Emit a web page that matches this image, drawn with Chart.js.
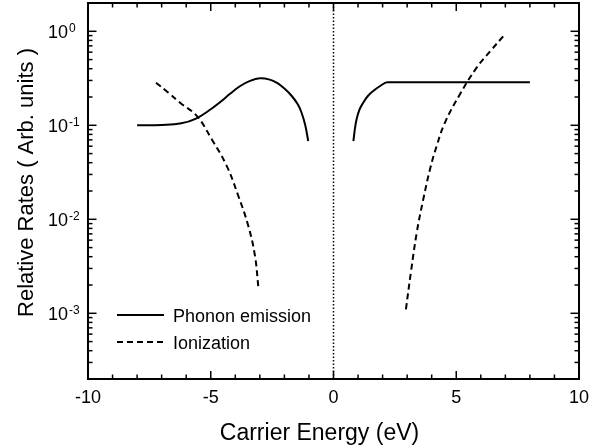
<!DOCTYPE html>
<html>
<head>
<meta charset="utf-8">
<script src="https://cdn.jsdelivr.net/npm/chart.js@4"></script>
<style>
  html, body { margin: 0; padding: 0; background: #fff; }
  #chart { display: block; }
</style>
</head>
<body>
<canvas id="chart" width="603" height="446"></canvas>
<script>
// Phonon emission, E < 0 branch
const phononLeftE = [-8, -7, -6.2, -5.6, -5.0, -4.6, -4.2, -3.8, -3.4, -3.0, -2.6, -2.3, -2.0, -1.7, -1.45, -1.3, -1.15, -1.03]
const phononLeftRate = [0.100, 0.101, 0.105, 0.118, 0.148, 0.178, 0.218, 0.262, 0.297, 0.316, 0.306, 0.282, 0.246, 0.205, 0.166, 0.136, 0.1, 0.068]

// Phonon emission, E > 0 branch
const phononRightE = [0.81, 0.88, 0.94, 1.05, 1.21, 1.4, 1.62, 1.9, 2.19, 5, 8]
const phononRightRate = [0.068, 0.095, 0.116, 0.145, 0.174, 0.205, 0.232, 0.262, 0.287, 0.287, 0.287]

// Ionization, E < 0 branch
const ionLeftE = [-7.23, -6.75, -6.25, -5.57, -4.96, -4.35, -3.88, -3.47, -3.2, -3.06]
const ionLeftRate = [0.284, 0.225, 0.174, 0.126, 0.071, 0.037, 0.0178, 0.0085, 0.0041, 0.0019]

// Ionization, E > 0 branch
const ionRightE = [2.95, 3.15, 3.39, 3.65, 3.93, 4.2, 4.54, 5.15, 5.83, 6.4, 6.92]
const ionRightRate = [0.0011, 0.0027, 0.0072, 0.016, 0.034, 0.06, 0.107, 0.214, 0.41, 0.62, 0.89]

// dotted marker at E = 0
const zeroLineE = [0, 0]
const zeroLineRate = [2e-4, 2]

const xMajorTicks = [-10, -5, 0, 5, 10]
const yDecades = [-3, -2, -1, 0]
const legendLabels = ['Phonon emission', 'Ionization']

const FONT = "'Liberation Sans', Arial, Helvetica, sans-serif"

function toPoints(xs, ys) {
  return xs.map((x, i) => ({ x, y: ys[i] }))
}

function curve(xs, ys, dash, smooth) {
  const ds = {
    data: toPoints(xs, ys),
    borderColor: '#000',
    borderWidth: 2,
    borderDash: dash,
    pointRadius: 0,
    fill: false,
  }
  if (smooth === 'monotone') ds.cubicInterpolationMode = 'monotone'
  else ds.tension = 0.4
  return ds
}

const axesPlugin = {
  id: 'framedAxes',
  afterDraw(chart) {
    const { ctx, chartArea: a, scales } = chart
    const xs = scales.x
    const ys = scales.y
    const line = (x1, y1, x2, y2) => {
      ctx.beginPath()
      ctx.moveTo(x1, y1)
      ctx.lineTo(x2, y2)
      ctx.stroke()
    }

    ctx.save()
    ctx.strokeStyle = '#000'
    ctx.fillStyle = '#000'
    ctx.setLineDash([])

    // frame
    ctx.lineWidth = 2
    ctx.strokeRect(a.left, a.top, a.right - a.left, a.bottom - a.top)

    // x ticks, inward on bottom and top
    ctx.lineWidth = 1.5
    for (let v = xs.min; v <= xs.max; v++) {
      const px = xs.getPixelForValue(v)
      const len = xMajorTicks.includes(v) ? 8 : 4.5
      line(px, a.bottom, px, a.bottom - len)
      line(px, a.top, px, a.top + len)
    }

    // y ticks: decades and 2..9 minors
    for (let d = -4; d <= 0; d++) {
      for (let m = 1; m <= 9; m++) {
        const v = m * Math.pow(10, d)
        if (v < ys.min || v > ys.max) continue
        const py = ys.getPixelForValue(v)
        const len = m === 1 ? 8.5 : 4.5
        line(a.left, py, a.left + len, py)
        line(a.right, py, a.right - len, py)
      }
    }

    // x tick labels
    ctx.font = '18px ' + FONT
    ctx.textAlign = 'center'
    ctx.textBaseline = 'alphabetic'
    xMajorTicks.forEach(v => {
      ctx.fillText(String(v), xs.getPixelForValue(v), a.bottom + 24)
    })

    // y tick labels as 10 with superscript exponent
    yDecades.forEach(d => {
      const py = ys.getPixelForValue(Math.pow(10, d))
      ctx.font = '18px ' + FONT
      ctx.textAlign = 'right'
      ctx.fillText('10', a.left - 20, py + 7)
      ctx.font = '12px ' + FONT
      ctx.textAlign = 'left'
      ctx.fillText(String(d), a.left - 19, py + 1)
    })

    // axis titles
    ctx.font = '23px ' + FONT
    ctx.textAlign = 'center'
    ctx.fillText('Carrier Energy (eV)', (a.left + a.right) / 2 - 14, a.bottom + 61)

    ctx.save()
    ctx.font = '22px ' + FONT
    ctx.translate(33, 182.5)
    ctx.rotate(-Math.PI / 2)
    ctx.fillText('Relative Rates ( Arb. units )', 0, 0)
    ctx.restore()

    // legend inside the plot, bottom left
    const styles = [chart.data.datasets[0], chart.data.datasets[2]]
    legendLabels.forEach((label, i) => {
      const ly = a.bottom - 64 + i * 27
      ctx.lineWidth = 2
      ctx.setLineDash(styles[i].borderDash || [])
      line(a.left + 29, ly, a.left + 76, ly)
      ctx.setLineDash([])
      ctx.font = '18px ' + FONT
      ctx.textAlign = 'left'
      ctx.fillText(label, a.left + 85, ly + 7)
    })

    ctx.restore()
  },
}

new Chart(document.getElementById('chart'), {
  type: 'line',
  data: {
    datasets: [
      curve(phononLeftE, phononLeftRate, [], 'tension'),
      curve(phononRightE, phononRightRate, [], 'monotone'),
      curve(ionLeftE, ionLeftRate, [6, 4], 'tension'),
      curve(ionRightE, ionRightRate, [6, 4], 'tension'),
      {
        data: toPoints(zeroLineE, zeroLineRate),
        borderColor: '#000',
        borderWidth: 1.5,
        borderDash: [1.5, 2],
        pointRadius: 0,
        tension: 0,
        fill: false,
      },
    ],
  },
  options: {
    responsive: false,
    animation: false,
    layout: { padding: { top: 3, right: 24, left: 0, bottom: 0 } },
    plugins: {
      legend: { display: false },
      tooltip: { enabled: false },
    },
    scales: {
      x: {
        type: 'linear',
        min: -10,
        max: 10,
        ticks: { display: false },
        grid: { display: false },
        border: { display: false },
        afterFit(scale) { scale.height = 67 },
      },
      y: {
        type: 'logarithmic',
        min: 2e-4,
        max: 2,
        ticks: { display: false },
        grid: { display: false },
        border: { display: false },
        afterFit(scale) { scale.width = 88 },
      },
    },
  },
  plugins: [axesPlugin],
})
</script>
</body>
</html>
